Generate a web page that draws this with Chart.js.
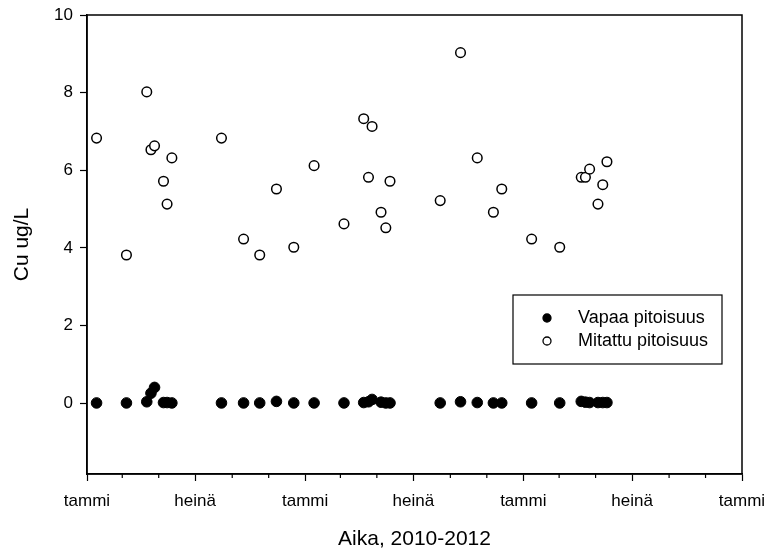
<!DOCTYPE html>
<html>
<head>
<meta charset="utf-8">
<script src="https://cdn.jsdelivr.net/npm/chart.js@4"></script>
<style>
  html, body { margin: 0; padding: 0; background: #fff; }
  #wrap { width: 764px; height: 552px; }
</style>
</head>
<body>
<div id="wrap"><canvas id="cuChart"></canvas></div>
<script>
// sampling dates
const dates = [
  '2010-01-17', '2010-03-08', '2010-04-11', '2010-04-18', '2010-04-24', '2010-05-09', '2010-05-15', '2010-05-23',
  '2010-08-14', '2010-09-20', '2010-10-17', '2010-11-14', '2010-12-13',
  '2011-01-16', '2011-03-07', '2011-04-09', '2011-04-17', '2011-04-23', '2011-05-08', '2011-05-16', '2011-05-23',
  '2011-08-15', '2011-09-18', '2011-10-16', '2011-11-12', '2011-11-26',
  '2012-01-15', '2012-03-02', '2012-04-07', '2012-04-14', '2012-04-21', '2012-05-05', '2012-05-13', '2012-05-20'
];
const mitattu = [
  6.83, 3.82, 8.02, 6.53, 6.63, 5.72, 5.13, 6.32,
  6.83, 4.23, 3.82, 5.52, 4.02,
  6.12, 4.62, 7.33, 5.82, 7.13, 4.92, 4.52, 5.72,
  5.22, 9.03, 6.32, 4.92, 5.52,
  4.23, 4.02, 5.82, 5.82, 6.03, 5.13, 5.63, 6.22
];
const vapaa = [
  0.01, 0.01, 0.04, 0.26, 0.41, 0.02, 0.02, 0.01,
  0.01, 0.01, 0.01, 0.05, 0.01,
  0.01, 0.01, 0.02, 0.04, 0.10, 0.03, 0.01, 0.01,
  0.01, 0.04, 0.02, 0.01, 0.01,
  0.01, 0.01, 0.05, 0.03, 0.02, 0.02, 0.02, 0.02
];
const seriesNames = ['Vapaa pitoisuus', 'Mitattu pitoisuus'];
const monthNames = { 0: 'tammi', 6: 'heinä' };
const yTicks = [0, 2, 4, 6, 8, 10];

const DAY = 86400000;
const origin = Date.UTC(2010, 0, 1);
function dayOf(s) {
  const p = s.split('-').map(Number);
  return (Date.UTC(p[0], p[1] - 1, p[2]) - origin) / DAY;
}

// axis ticks every second month, 2010-01 .. 2013-01
const xTicks = [];
for (let m = 0; m <= 36; m += 2) {
  const t = Date.UTC(2010, m, 1);
  xTicks.push({ value: (t - origin) / DAY, month: new Date(t).getUTCMonth() });
}
const xMax = (Date.UTC(2013, 0, 1) - origin) / DAY;

const FONT = 'Liberation Sans, Arial, sans-serif';

const framePlugin = {
  id: 'frame',
  afterDraw(chart) {
    const { ctx, chartArea: a } = chart;
    const xs = chart.scales.x;
    ctx.save();
    ctx.strokeStyle = '#000';
    ctx.lineWidth = 1.5;
    ctx.strokeRect(a.left, a.top, a.right - a.left, a.bottom - a.top);
    // short minor ticks
    ctx.lineWidth = 1.2;
    xTicks.forEach(t => {
      if (monthNames[t.month] === undefined) {
        const px = xs.getPixelForValue(t.value);
        ctx.beginPath();
        ctx.moveTo(px, a.bottom);
        ctx.lineTo(px, a.bottom + 4);
        ctx.stroke();
      }
    });
    // legend box
    const lx = 513, ly = 295, lw = 209, lh = 69;
    ctx.fillStyle = '#fff';
    ctx.fillRect(lx, ly, lw, lh);
    ctx.lineWidth = 1.2;
    ctx.strokeRect(lx, ly, lw, lh);
    ctx.font = '18px ' + FONT;
    ctx.textBaseline = 'middle';
    chart.data.datasets.forEach((ds, i) => {
      const cy = ly + 23 + i * 23;
      ctx.beginPath();
      ctx.arc(lx + 34, cy, 4, 0, Math.PI * 2);
      ctx.fillStyle = ds.backgroundColor;
      ctx.fill();
      ctx.lineWidth = 1.3;
      ctx.strokeStyle = '#000';
      ctx.stroke();
      ctx.fillStyle = '#000';
      ctx.fillText(ds.label, lx + 65, cy);
    });
    ctx.restore();
  }
};

const ctx = document.getElementById('cuChart').getContext('2d');
const myChart = new Chart(ctx, {
  type: 'scatter',
  data: {
    datasets: [
      {
        label: seriesNames[0],
        data: dates.map((d, i) => ({ x: dayOf(d), y: vapaa[i] })),
        backgroundColor: '#000',
        borderColor: '#000',
        borderWidth: 1,
        pointRadius: 5.3,
        pointHoverRadius: 5.3
      },
      {
        label: seriesNames[1],
        data: dates.map((d, i) => ({ x: dayOf(d), y: mitattu[i] })),
        backgroundColor: '#fff',
        borderColor: '#000',
        borderWidth: 1.5,
        pointRadius: 4.8,
        pointHoverRadius: 4.8
      }
    ]
  },
  options: {
    responsive: true,
    maintainAspectRatio: false,
    animation: false,
    layout: { padding: { left: 0, top: 15, right: 22, bottom: 0 } },
    plugins: {
      legend: { display: false },
      tooltip: { enabled: false }
    },
    scales: {
      x: {
        type: 'linear',
        min: 0,
        max: xMax,
        afterBuildTicks(scale) {
          scale.ticks = xTicks.map(t => ({ value: t.value }));
        },
        afterFit(scale) {
          scale.height = 78;
          scale.paddingLeft = 0;
          scale.paddingRight = 0;
        },
        border: { display: true, color: '#000', width: 1.5 },
        grid: {
          drawOnChartArea: false,
          tickLength: 7,
          tickWidth: 1.2,
          tickColor: c => (c.index !== undefined && monthNames[xTicks[c.index].month] !== undefined) ? '#000' : 'rgba(0,0,0,0)'
        },
        ticks: {
          autoSkip: false,
          maxRotation: 0,
          padding: 10,
          color: '#000',
          font: { family: FONT, size: 17 },
          callback: (v, i) => monthNames[xTicks[i].month] || ''
        },
        title: {
          display: true,
          text: 'Aika, 2010-2012',
          color: '#000',
          font: { family: FONT, size: 21 },
          padding: { top: 10, bottom: 0 }
        }
      },
      y: {
        min: -1.82,
        max: 10,
        afterBuildTicks(scale) {
          scale.ticks = yTicks.map(v => ({ value: v }));
        },
        afterFit(scale) {
          scale.width = 87;
          scale.paddingTop = 0;
          scale.paddingBottom = 0;
        },
        border: { display: true, color: '#000', width: 1.5 },
        grid: { drawOnChartArea: false, tickLength: 7, tickWidth: 1.2, tickColor: '#000' },
        ticks: {
          padding: 7,
          color: '#000',
          font: { family: FONT, size: 17 }
        },
        title: {
          display: true,
          text: 'Cu ug/L',
          color: '#000',
          font: { family: FONT, size: 21 },
          padding: { top: 10, bottom: 8 }
        }
      }
    }
  },
  plugins: [framePlugin]
});
</script>
</body>
</html>
